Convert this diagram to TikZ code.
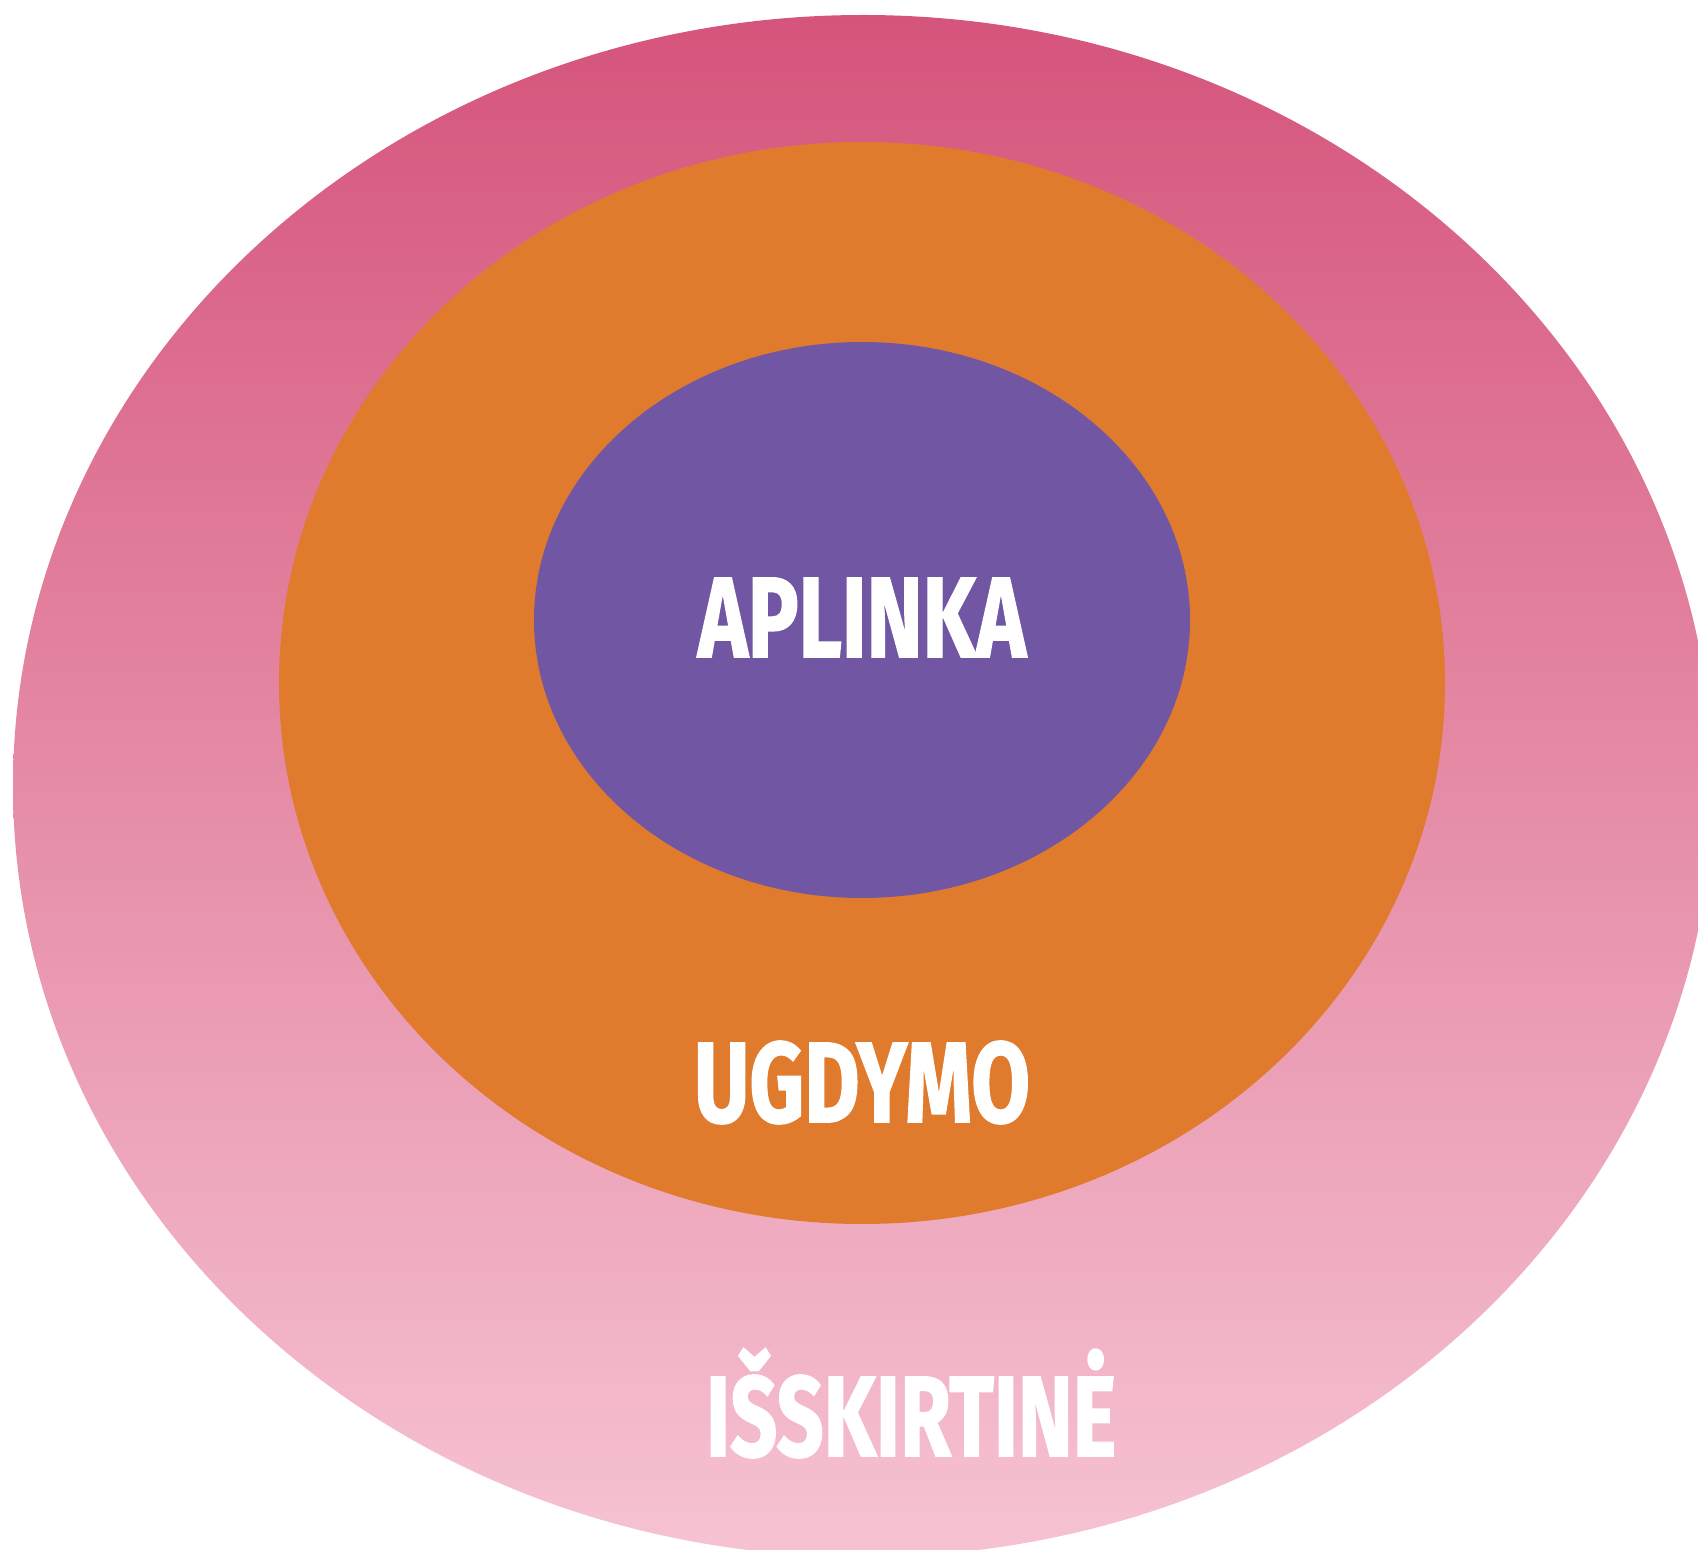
\documentclass[tikz,border=0pt]{standalone}
\usepackage{fontspec}
\setmainfont{Fira Sans}
\newfontfamily\ringfont{Fira Sans}[BoldFeatures={FakeBold=1.6}]
\usepackage{graphicx}
\definecolor{pinktop}{HTML}{D5547B}
\definecolor{pinkmid}{HTML}{E98AA6}
\definecolor{pinkbot}{HTML}{F6C3D2}
\definecolor{orangering}{HTML}{E07B2E}
\definecolor{purplecore}{HTML}{7156A3}
\tikzset{
  ringlabel/.style={text=white, inner sep=0pt, anchor=base,
    font=\ringfont\fontsize{57}{60}\selectfont\bfseries}
}
\begin{document}
\begin{tikzpicture}[x=0.5pt,y=-0.5pt]
\useasboundingbox (0,0) rectangle (1698,1550);
\clip (0,0) rectangle (1698,1550);
\shade[top color=pinktop, middle color=pinkmid, bottom color=pinkbot]
  (863,786) ellipse [x radius=850, y radius=771];
\fill[orangering] (862,683) ellipse [x radius=583, y radius=541];
\fill[purplecore] (862,620) ellipse [x radius=328, y radius=278];
\node[ringlabel] (aplinka) at (862,657) {\resizebox{164pt}{\height}{APLINKA}};
\node[ringlabel] (ugdymo) at (862,1122) {\resizebox{168pt}{\height}{UGDYMO}};
\node[ringlabel] (isskirtine) at (911,1456) {\resizebox{205pt}{\height}{IŠSKIRTINĖ}};
\end{tikzpicture}
\end{document}
